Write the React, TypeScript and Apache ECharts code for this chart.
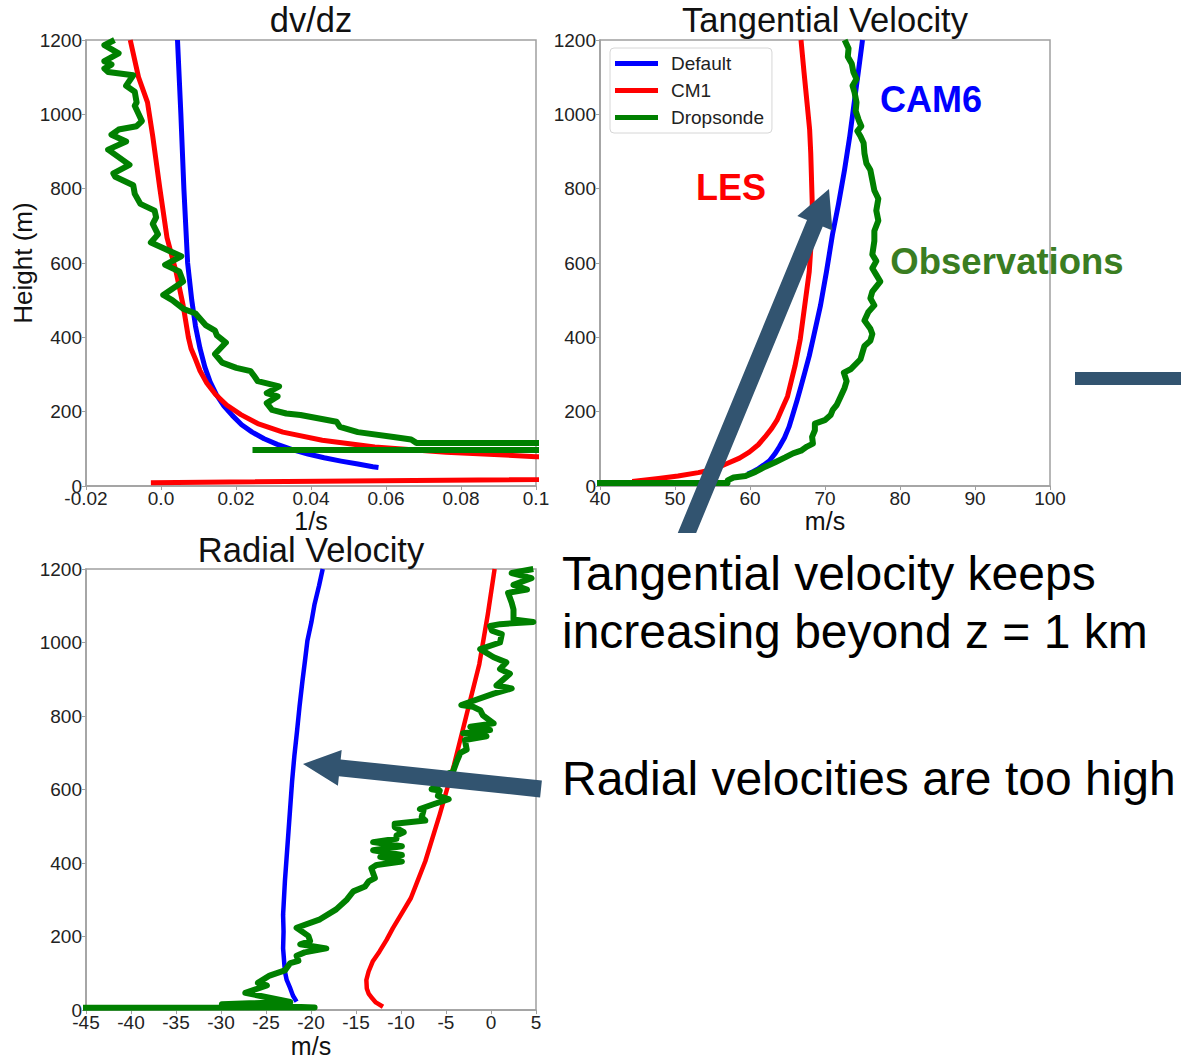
import React, { useEffect, useRef } from "react";
import * as echarts from "echarts";

const FONT = "'Liberation Sans', Arial, Helvetica, sans-serif";

// Axis ticks
const heightTickLabels = ["0", "200", "400", "600", "800", "1000", "1200"];
const dvdzTickLabels = ["-0.02", "0.0", "0.02", "0.04", "0.06", "0.08", "0.1"];
const tangentialTickLabels = ["40", "50", "60", "70", "80", "90", "100"];
const radialTickLabels = ["-45", "-40", "-35", "-30", "-25", "-20", "-15", "-10", "-5", "0", "5"];

const seriesNames = ["Default", "CM1", "Dropsonde"];

// dv/dz profiles: [shear (1/s), height (m)]
const dvdzDefault = [
  [0.0044, 1200], [0.0053, 1000], [0.0061, 800], [0.0071, 600], [0.0082, 500],
  [0.0092, 430], [0.0104, 370], [0.0117, 320], [0.0131, 280], [0.0148, 245],
  [0.0168, 215], [0.019, 190], [0.0215, 165], [0.0243, 145], [0.0275, 127],
  [0.031, 112], [0.035, 98], [0.0392, 86], [0.0435, 76], [0.048, 67],
  [0.0525, 59], [0.0565, 52], [0.058, 50],
];
const dvdzCM1 = [
  [-0.0082, 1200], [-0.006, 1100], [-0.0036, 1032], [-0.0022, 941], [-0.0003, 800],
  [0.0016, 668], [0.004, 577], [0.0059, 486], [0.0073, 400], [0.008, 370],
  [0.0092, 341], [0.0104, 310], [0.0122, 277], [0.0145, 247], [0.0175, 218],
  [0.0213, 192], [0.0258, 168], [0.0325, 145], [0.043, 123], [0.057, 105],
  [0.076, 91], [0.1, 79], [0.14, 66], [0.45, 46], [-0.0027, 9],
];
const dvdzDropsonde = [
  [-0.0124, 1200], [-0.0151, 1186], [-0.0113, 1164], [-0.0151, 1143], [-0.0132, 1134],
  [-0.0151, 1123], [-0.0141, 1114], [-0.0074, 1105], [-0.0093, 1077], [-0.007, 1061],
  [-0.0065, 1032], [-0.007, 1023], [-0.0051, 982], [-0.0065, 968], [-0.0113, 959],
  [-0.0132, 945], [-0.0093, 927], [-0.0141, 905], [-0.0084, 864], [-0.0127, 841],
  [-0.0122, 832], [-0.0074, 809], [-0.007, 786], [-0.0055, 759], [-0.0017, 741],
  [-0.0013, 723], [-0.0022, 705], [-0.0008, 677], [-0.0027, 655], [0.0054, 618],
  [0.0011, 595], [0.0049, 577], [0.0059, 550], [0.0006, 514], [0.003, 500],
  [0.0059, 477], [0.0092, 464], [0.012, 432], [0.0144, 418], [0.0149, 405],
  [0.0173, 386], [0.0144, 355], [0.0163, 332], [0.0201, 318], [0.0239, 309],
  [0.0249, 295], [0.0258, 282], [0.0315, 268], [0.0282, 250], [0.0311, 241],
  [0.0282, 223], [0.0296, 205], [0.0334, 195], [0.0372, 191], [0.0468, 173],
  [0.0477, 159], [0.0525, 145], [0.062, 132], [0.0667, 125], [0.0681, 116],
  [2, 116], [2, 97], [0.0244, 97],
];

// Tangential velocity profiles: [m/s, height (m)]
const vtDefault = [
  [59.7, 32], [60.45, 39], [61.0, 45], [61.8, 56], [62.6, 68], [63.3, 86],
  [63.9, 105], [64.6, 130], [65.2, 159], [65.75, 195], [66.3, 232], [66.8, 268],
  [67.3, 305], [67.9, 350], [68.4, 395], [69.4, 486], [70.2, 577], [71.0, 677],
  [71.8, 759], [72.6, 850], [73.3, 941], [73.9, 1032], [74.5, 1123], [75.0, 1200],
];
const vtCM1 = [
  [44.3, 12], [47.8, 20], [50.4, 27], [53.1, 36], [55.2, 45], [56.8, 59],
  [58.6, 75], [59.9, 91], [61.1, 111], [62.0, 132], [62.9, 155], [63.6, 177],
  [64.3, 209], [65.0, 241], [65.5, 282], [66.0, 323], [66.7, 395], [67.3, 486],
  [67.9, 577], [68.2, 668], [68.3, 759], [68.1, 895], [67.95, 959], [67.6, 1032],
  [67.2, 1114], [66.8, 1200],
];
const vtDropsonde = [
  [72.62, 1200], [73.14, 1177], [73.04, 1155], [73.57, 1136], [73.78, 1114],
  [74.2, 1095], [73.67, 1077], [73.94, 1059], [74.2, 1032], [74.09, 1009],
  [74.47, 986], [74.84, 968], [74.31, 955], [74.73, 941], [75.15, 923],
  [75.26, 895], [75.52, 868], [76.05, 850], [76.31, 823], [76.58, 795],
  [77.11, 773], [76.84, 741], [77.11, 714], [76.58, 686], [76.58, 659],
  [76.31, 623], [76.84, 605], [76.31, 586], [76.84, 568], [77.37, 550],
  [76.31, 523], [76.05, 505], [76.58, 486], [75.78, 468], [75.26, 445],
  [76.05, 423], [76.31, 409], [76.05, 391], [75.26, 377], [74.99, 359],
  [74.73, 341], [73.41, 314], [72.51, 305], [72.88, 282], [72.61, 264],
  [72.09, 241], [71.56, 218], [71.03, 205], [70.76, 191], [69.97, 177],
  [68.65, 168], [68.65, 150], [68.28, 132], [68.39, 114], [67.6, 106],
  [66.8, 95], [65.74, 88], [64.69, 77], [63.36, 64], [62.04, 52],
  [60.72, 38], [59.4, 27], [57.81, 23], [57.02, 15], [57.0, 8], [20, 8],
];

// Radial velocity profiles: [m/s, height (m)]
const vrDefault = [
  [-21.6, 23], [-22.0, 39], [-22.3, 59], [-22.7, 82], [-22.9, 105], [-23.1, 168],
  [-23.05, 214], [-23.1, 259], [-22.9, 350], [-22.5, 486], [-22.1, 623],
  [-21.85, 691], [-21.55, 759], [-21.27, 827], [-20.95, 895], [-20.67, 950],
  [-20.4, 1005], [-19.96, 1055], [-19.6, 1105], [-19.1, 1155], [-18.7, 1200],
];
const vrCM1 = [
  [-12.0, 9], [-12.8, 21], [-13.2, 32], [-13.6, 45], [-13.8, 59], [-13.85, 82],
  [-13.6, 105], [-13.15, 132], [-12.4, 159], [-11.6, 191], [-10.9, 223],
  [-9.9, 264], [-8.9, 305], [-8.1, 355], [-7.3, 405], [-5.7, 532], [-4.1, 668],
  [-2.7, 805], [-1.3, 941], [-0.35, 1077], [0.4, 1200],
];
const vrDropsonde = [
  [-80, 6], [-19.6, 7], [-29.9, 16], [-22.3, 22], [-27.3, 47], [-24.9, 67],
  [-25.9, 74], [-24.6, 94], [-22.9, 108], [-22.3, 128], [-21.4, 134], [-21.6, 148],
  [-20.7, 157], [-18.3, 168], [-21.2, 179], [-20.1, 188], [-20.3, 202], [-21.6, 224],
  [-19.0, 247], [-17.2, 274], [-16.0, 301], [-15.3, 323], [-14.0, 336], [-13.6, 350],
  [-12.9, 359], [-13.3, 386], [-12.7, 395], [-9.9, 404], [-12.3, 417], [-9.9, 422],
  [-13.1, 435], [-9.9, 446], [-13.1, 457], [-10.5, 466], [-10.5, 475], [-9.7, 484],
  [-10.7, 498], [-10.7, 507], [-7.3, 516], [-7.7, 525], [-7.5, 543], [-7.9, 547],
  [-6.4, 560], [-4.7, 574], [-5.9, 583], [-5.7, 597], [-6.6, 601], [-5.7, 614],
  [-6.4, 623], [-4.2, 650], [-3.8, 677], [-3.4, 700], [-2.7, 709], [-2.9, 735],
  [-0.5, 745], [-3.1, 753], [-0.1, 762], [-2.3, 771], [0.3, 780], [-0.9, 802],
  [-1.2, 816], [-2.0, 825], [-3.3, 830], [0.3, 861], [2.3, 875], [0.6, 883],
  [2.1, 915], [1.0, 928], [1.7, 946], [0.3, 960], [-1.2, 982], [1.0, 1000],
  [1.2, 1023], [0.1, 1032], [-0.1, 1045], [1.0, 1050], [4.7, 1056], [2.5, 1063],
  [2.5, 1090], [2.3, 1108], [1.9, 1135], [4.0, 1144], [2.5, 1157], [4.5, 1175],
  [2.3, 1189], [4.7, 1200],
];

const COLORS = ["#0000ff", "#ff0000", "#008000"];
const ARROW = "#325470";
const FRAME = "#a0a0a0";

type Pt = [number, number];

// Block arrow outline from tail centre to tip
function arrowShape(tail: Pt, tip: Pt, shaftHalf: number, headHalf: number, headLen: number): Pt[] {
  const dx = tip[0] - tail[0];
  const dy = tip[1] - tail[1];
  const L = Math.hypot(dx, dy);
  const ux = dx / L, uy = dy / L;
  const nx = -uy, ny = ux;
  const bx = tip[0] - ux * headLen, by = tip[1] - uy * headLen;
  return [
    [tail[0] + nx * shaftHalf, tail[1] + ny * shaftHalf],
    [bx + nx * shaftHalf, by + ny * shaftHalf],
    [bx + nx * headHalf, by + ny * headHalf],
    tip,
    [bx - nx * headHalf, by - ny * headHalf],
    [bx - nx * shaftHalf, by - ny * shaftHalf],
    [tail[0] - nx * shaftHalf, tail[1] - ny * shaftHalf],
  ];
}

function xAxisCfg(gridIndex: number, min: number, max: number, interval: number, labels: string[], name: string) {
  return {
    type: "value",
    gridIndex,
    min,
    max,
    interval,
    name,
    nameLocation: "middle",
    nameGap: 19,
    nameTextStyle: { fontSize: 25, color: "#111", fontFamily: FONT },
    axisLine: { show: true, onZero: false, lineStyle: { color: FRAME, width: 1.5 } },
    axisTick: { show: true, length: 4, lineStyle: { color: FRAME, width: 1 } },
    axisLabel: {
      fontSize: 19,
      color: "#222",
      margin: 3,
      fontFamily: FONT,
      formatter: (v: number) => labels[Math.round((v - min) / interval)] ?? "",
    },
    splitLine: { show: false },
  };
}

function yAxisCfg(gridIndex: number, name?: string) {
  return {
    type: "value",
    gridIndex,
    min: 0,
    max: 1200,
    interval: 200,
    name: name ?? "",
    nameLocation: "middle",
    nameGap: 48,
    nameTextStyle: { fontSize: 26, color: "#111", fontFamily: FONT },
    axisLine: { show: true, onZero: false, lineStyle: { color: FRAME, width: 1.5 } },
    axisTick: { show: true, length: 4, lineStyle: { color: FRAME, width: 1 } },
    axisLabel: {
      fontSize: 19,
      color: "#222",
      margin: 4,
      fontFamily: FONT,
      formatter: (v: number) => heightTickLabels[Math.round(v / 200)] ?? "",
    },
    splitLine: { show: false },
  };
}

function lineSeries(name: string, idx: number, data: number[][], color: string, width: number) {
  return {
    type: "line",
    name,
    xAxisIndex: idx,
    yAxisIndex: idx,
    data,
    showSymbol: false,
    symbol: "none",
    clip: true,
    lineStyle: { color, width, cap: "butt", join: "round" },
    itemStyle: { color },
    emphasis: { disabled: true },
  };
}

function textEl(text: string, x: number, y: number, size: number, fill: string, bold = false, align = "center") {
  return {
    type: "text",
    x,
    y,
    z: 100,
    style: {
      text,
      fill,
      fontSize: size,
      fontFamily: FONT,
      fontWeight: bold ? "bold" : "normal",
      align,
      verticalAlign: "middle",
      textAlign: align,
      textVerticalAlign: "middle",
    },
  };
}

export default function App() {
  const ref = useRef<HTMLDivElement>(null);

  useEffect(() => {
    document.body.style.margin = "0";
    const chart = echarts.init(ref.current!, null, { renderer: "svg" });

    const gridBox = { show: true, borderColor: FRAME, borderWidth: 1.5, backgroundColor: "transparent" };

    const option = {
      animation: false,
      backgroundColor: "#ffffff",
      grid: [
        { left: 86, top: 40, width: 450, height: 446, ...gridBox },
        { left: 600, top: 40, width: 450, height: 446, ...gridBox },
        { left: 86, top: 569, width: 450, height: 446, ...gridBox },
      ],
      xAxis: [
        xAxisCfg(0, -0.02, 0.1, 0.02, dvdzTickLabels, "1/s"),
        xAxisCfg(1, 40, 100, 10, tangentialTickLabels, "m/s"),
        xAxisCfg(2, -45, 5, 5, radialTickLabels, "m/s"),
      ],
      yAxis: [yAxisCfg(0, "Height (m)"), yAxisCfg(1), yAxisCfg(2)],
      legend: {
        data: seriesNames,
        left: 610,
        top: 48,
        orient: "vertical",
        icon: "rect",
        itemWidth: 43,
        itemHeight: 5,
        itemGap: 8,
        padding: [6, 8, 6, 5],
        borderColor: "#d6d6d6",
        borderWidth: 1,
        borderRadius: 4,
        backgroundColor: "#ffffff",
        selectedMode: false,
        textStyle: { fontSize: 19, color: "#222", fontFamily: FONT, padding: [0, 0, 0, 8] },
      },
      series: [
        lineSeries(seriesNames[0], 0, dvdzDefault, COLORS[0], 5),
        lineSeries(seriesNames[1], 0, dvdzCM1, COLORS[1], 5),
        lineSeries(seriesNames[2], 0, dvdzDropsonde, COLORS[2], 6),
        lineSeries(seriesNames[0], 1, vtDefault, COLORS[0], 5),
        lineSeries(seriesNames[1], 1, vtCM1, COLORS[1], 5),
        lineSeries(seriesNames[2], 1, vtDropsonde, COLORS[2], 6),
        lineSeries(seriesNames[0], 2, vrDefault, COLORS[0], 4.5),
        lineSeries(seriesNames[1], 2, vrCM1, COLORS[1], 4.5),
        lineSeries(seriesNames[2], 2, vrDropsonde, COLORS[2], 6),
      ],
      graphic: [
        textEl("dv/dz", 311, 20, 34.5, "#111"),
        textEl("Tangential Velocity", 825, 20, 34.5, "#111"),
        textEl("Radial Velocity", 311, 550, 34.5, "#111"),
        textEl("CAM6", 931, 99, 36, "#0000ff", true),
        textEl("LES", 731, 187, 36, "#ff0000", true),
        textEl("Observations", 1007, 261, 36.5, "#3a7d22", true),
        {
          type: "polygon",
          z: 100,
          shape: { points: arrowShape([682, 545], [829, 189], 8.5, 19, 37) },
          style: { fill: ARROW },
        },
        { type: "rect", z: 101, shape: { x: 650, y: 533, width: 80, height: 18 }, style: { fill: "#ffffff" } },
        {
          type: "polygon",
          z: 100,
          shape: { points: arrowShape([541, 789], [303, 764], 8.5, 18, 37) },
          style: { fill: ARROW },
        },
        { type: "rect", z: 100, shape: { x: 1075, y: 372, width: 106, height: 13 }, style: { fill: ARROW } },
        textEl("Tangential velocity keeps", 562, 573, 48, "#000", false, "left"),
        textEl("increasing beyond z = 1 km", 562, 631, 48, "#000", false, "left"),
        textEl("Radial velocities are too high", 562, 778, 48, "#000", false, "left"),
      ],
    };

    chart.setOption(option as any);
    return () => chart.dispose();
  }, []);

  return <div ref={ref} style={{ width: 1181, height: 1059 }} />;
}
